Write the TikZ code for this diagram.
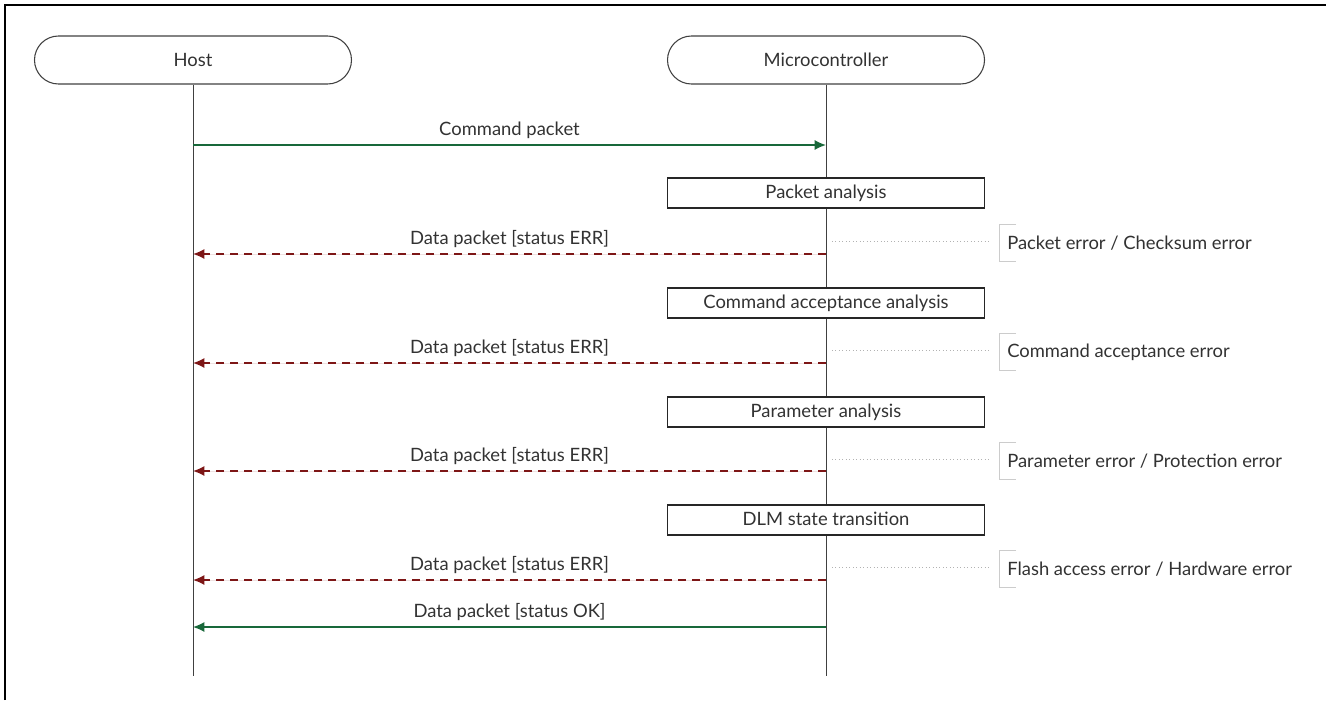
\documentclass[tikz,border=0pt]{standalone}
\usepackage{fontspec}
\setmainfont{Lato}
\usetikzlibrary{arrows.meta}
\definecolor{okgreen}{RGB}{24,104,58}
\definecolor{errred}{RGB}{125,22,22}
\definecolor{inkgray}{RGB}{50,50,50}
\tikzset{
  actor/.style    = {shape=rectangle, rounded corners=18pt, draw=black!75,
                     line width=0.8pt, minimum width=237.75pt,
                     minimum height=36pt, text=inkgray},
  stepbox/.style  = {shape=rectangle, draw=black!85, line width=0.9pt,
                     minimum width=237.75pt, minimum height=22.5pt,
                     text height=0.85em, text depth=0.05em,
                     fill=white, text=inkgray},
  lifeline/.style = {draw=black!75, line width=0.75pt},
  okmsg/.style    = {draw=okgreen, line width=1.1pt,
                     -{Latex[length=8.5pt,width=7.5pt]}},
  errmsg/.style   = {okmsg, draw=errred, fill=errred,
                     dash pattern=on 6pt off 4.5pt},
  msglabel/.style = {above=3pt, inner sep=1pt, text=inkgray},
  note/.style     = {anchor=west, align=left, inner xsep=6pt,
                     minimum height=27.75pt, text=inkgray},
  notebr/.style   = {draw=black!20, line width=0.75pt},
  hint/.style     = {draw=black!30, dotted, line width=0.6pt,
                     shorten >=7pt}
}

\begin{document}
\begin{tikzpicture}
  [
    x = 0.75pt, y = -0.75pt,
    every node/.style = {font=\fontsize{13.8}{16}\selectfont}
  ]
  \useasboundingbox (0,0) rectangle (1326,700);
  \draw [line width=2pt] (5,700) -- (5,5) -- (1326,5);

  % participants
  \node [actor] (host) at (193,60) {Host};
  \node [actor] (mcu)  at (826,60) {Microcontroller};
  \coordinate (host end) at (193,676);
  \coordinate (mcu end)  at (826,676);
  \draw [lifeline] (host) -- (host end);
  \draw [lifeline] (mcu) -- (mcu end);

  % request
  \coordinate (h0) at (193,145);
  \coordinate (m0) at (826,145);
  \draw [okmsg] (h0) -- node [msglabel] {Command packet} (m0);

  % checks on the microcontroller
  \node [stepbox] (s1) at (826,193) {Packet analysis};
  \node [stepbox] (s2) at (826,303) {Command acceptance analysis};
  \node [stepbox] (s3) at (826,412) {Parameter analysis};
  \node [stepbox] (s4) at (826,520) {DLM state transition};

  \coordinate (m1) at (826,254);  \coordinate (h1) at (193,254);
  \coordinate (m2) at (826,363);  \coordinate (h2) at (193,363);
  \coordinate (m3) at (826,471);  \coordinate (h3) at (193,471);
  \coordinate (m4) at (826,580);  \coordinate (h4) at (193,580);
  \draw [errmsg] (m1) -- node [msglabel] {Data packet [status ERR]} (h1);
  \draw [errmsg] (m2) -- node [msglabel] {Data packet [status ERR]} (h2);
  \draw [errmsg] (m3) -- node [msglabel] {Data packet [status ERR]} (h3);
  \draw [errmsg] (m4) -- node [msglabel] {Data packet [status ERR]} (h4);

  % error notes
  \node [note] (n1) at (999,243) {Packet error / Checksum error};
  \node [note] (n2) at (999,352) {Command acceptance error};
  \node [note] (n3) at (999,461) {Parameter error / Protection error};
  \node [note] (n4) at (999,569) {Flash access error / Hardware error};
  \foreach \n in {n1,n2,n3,n4}
    \draw [notebr] (\n.north west) ++(17,0) -- (\n.north west)
                   -- (\n.south west) -- ++(17,0);
  \coordinate (d1) at (832,241);
  \coordinate (d2) at (832,350);
  \coordinate (d3) at (832,459);
  \coordinate (d4) at (832,567);
  \draw [hint] (d1) -- (n1.west |- d1);
  \draw [hint] (d2) -- (n2.west |- d2);
  \draw [hint] (d3) -- (n3.west |- d3);
  \draw [hint] (d4) -- (n4.west |- d4);

  % reply
  \coordinate (m5) at (826,627);
  \coordinate (h5) at (193,627);
  \draw [okmsg] (m5) -- node [msglabel] {Data packet [status OK]} (h5);
\end{tikzpicture}
\end{document}
